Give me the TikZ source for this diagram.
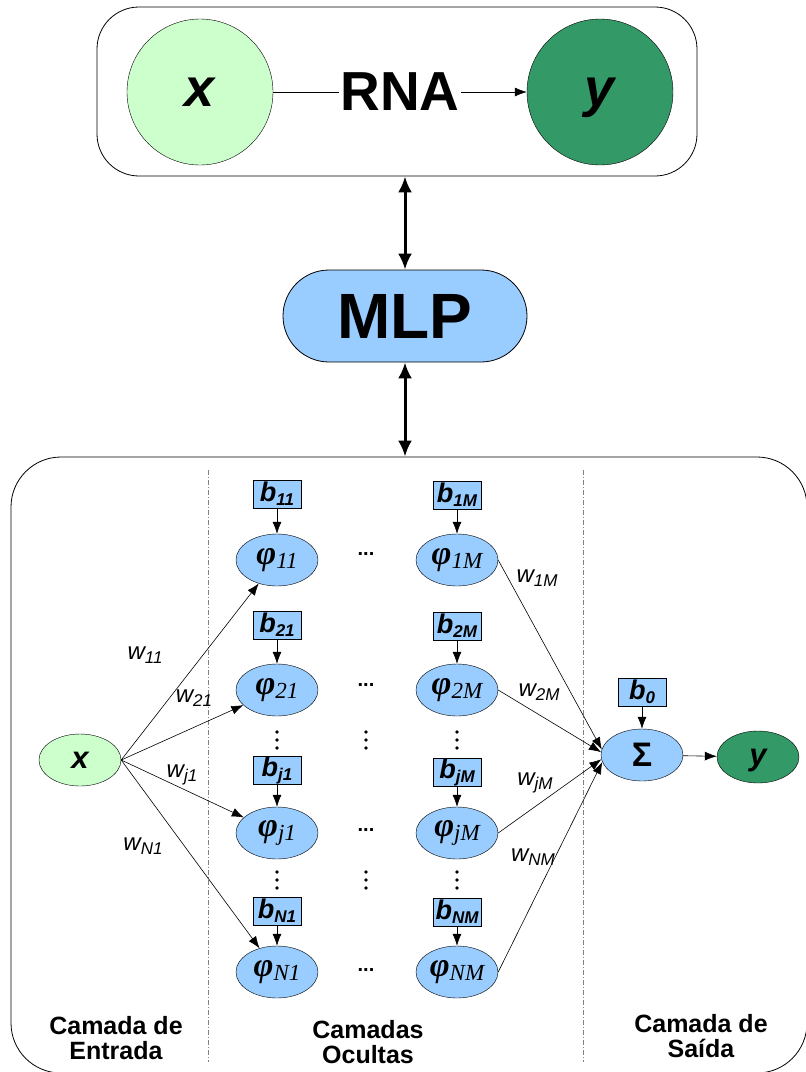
\documentclass[tikz,border=0pt]{standalone}
\usepackage{fontspec}
\setmainfont{Liberation Sans}
\newfontfamily\seriffont{Liberation Serif}
\usetikzlibrary{arrows.meta,shapes.geometric}
\definecolor{lblue}{HTML}{99CCFF}
\definecolor{lgreen}{HTML}{CCFFCC}
\definecolor{dgreen}{HTML}{339966}
\newcommand{\fs}[1]{\fontsize{#1}{#1}\selectfont}
\newcommand{\bsym}[1]{{\fs{27}\bfseries\itshape b}\raisebox{-4pt}{\fs{17}\bfseries\itshape #1}}
\newcommand{\phisym}[1]{{\seriffont\bfseries\itshape\fs{34}φ}\raisebox{-4pt}{\seriffont\itshape\fs{23}#1}}
\newcommand{\wsym}[1]{{\itshape\fs{24}w}\raisebox{-4pt}{\itshape\fs{17}#1}}
\tikzset{
  bigc/.style={circle, draw, minimum size=146pt, inner sep=0pt, font=\fs{54}\bfseries\itshape, text height=28pt, text depth=0pt},
  neu/.style={ellipse, draw, fill=lblue, minimum width=82pt, minimum height=52pt, inner sep=0pt},
  smallv/.style={text height=16pt, text depth=0pt},
  biasbox/.style={rectangle, draw, fill=lblue, minimum width=48pt, minimum height=28pt, inner sep=0pt},
  thin arr/.style={-{Latex[length=12pt,width=9pt]}, line width=0.6pt},
  dbl/.style={{Latex[length=16pt,width=14pt]}-{Latex[length=16pt,width=14pt]}, line width=3pt},
  wlab/.style={inner sep=0pt},
  hdots/.style={font=\fs{20}\bfseries, inner sep=0pt},
  caption/.style={font=\fs{25}\bfseries, align=center, inner sep=0pt},
  sep/.style={gray, line width=0.8pt, dash pattern=on 5pt off 2pt on 1pt off 2pt}
}
\begin{document}
\begin{tikzpicture}[x=1pt, y=-1pt]
\useasboundingbox (0,0) rectangle (806,1072);
% top block
\node[draw, rounded corners=42pt, minimum width=600pt, minimum height=169pt, line width=0.8pt] (topbox) at (397,91.5) {};
\node[bigc, fill=lgreen] (tx) at (200,92) {x};
\node[bigc, fill=dgreen] (ty) at (600,92) {y};
\draw[thin arr] (tx) -- (ty) node[midway, fill=white, inner sep=1pt, font=\fs{55}\bfseries] (rna) {RNA};
% MLP
\node[draw, fill=lblue, rounded corners=46pt, minimum width=244pt, minimum height=92pt, font=\fs{64}\bfseries, line width=0.8pt] (mlp) at (405,316) {MLP};
% bottom block
\node[draw, rounded corners=50pt, minimum width=796pt, minimum height=616pt, line width=0.8pt] (botbox) at (409,765) {};
\draw[dbl] (mlp.north |- topbox.south) -- (mlp.north);
\draw[dbl] (mlp.south) -- (botbox.north -| mlp.south);
% separators
\coordinate (s1a) at (208,470); \coordinate (s1b) at (208,1062);
\coordinate (s2a) at (583,470); \coordinate (s2b) at (583,1062);
\draw[sep] (s1a) -- (s1b);
\draw[sep] (s2a) -- (s2b);
% input
\node[neu, fill=lgreen, font=\fs{31}\bfseries\itshape, smallv] (x) at (80,760) {x};
% hidden column 1
\node[neu] (p11) at (277,560) {\phisym{11}};
\node[neu] (p21) at (277,690) {\phisym{21}};
\node[neu] (pj1) at (277,833) {\phisym{j1}};
\node[neu] (pN1) at (277,972) {\phisym{N1}};
\node[biasbox] (b11) at (277,494) {\bsym{11}};
\node[biasbox] (b21) at (277,625) {\bsym{21}};
\node[biasbox] (bj1) at (277,770) {\bsym{j1}};
\node[biasbox] (bN1) at (277,911) {\bsym{N1}};
% hidden column M
\node[neu] (p1M) at (457,560) {\phisym{1M}};
\node[neu] (p2M) at (457,690) {\phisym{2M}};
\node[neu] (pjM) at (457,833) {\phisym{jM}};
\node[neu] (pNM) at (457,972) {\phisym{NM}};
\node[biasbox] (b1M) at (457,495) {\bsym{1M}};
\node[biasbox] (b2M) at (457,626) {\bsym{2M}};
\node[biasbox] (bjM) at (457,772) {\bsym{jM}};
\node[biasbox] (bNM) at (457,912) {\bsym{NM}};
\foreach \r in {11,21,j1,N1,1M,2M,jM,NM}{\draw[thin arr] (b\r) -- (p\r);}
% dots
\node[hdots] (h1) at (366,554) {...};
\node[hdots] (h2) at (366,685) {...};
\node[hdots] (h3) at (366,830) {...};
\node[hdots] (h4) at (366,970) {...};
\foreach \cx in {277,366,457}{
  \foreach \cy in {740,880}{
    \foreach \d in {-8,0,8}{\fill (\cx,\cy+\d) circle (1.8pt);}
  }
}
% output
\node[neu, font=\fs{34}\bfseries] (sig) at (642,755) {Σ};
\node[biasbox] (b0) at (642,692) {\bsym{0}};
\node[neu, fill=dgreen, font=\fs{31}\bfseries\itshape, smallv] (y) at (758,757) {y};
\draw[thin arr] (b0) -- (sig);
\draw[thin arr] (sig) -- (y);
% edges
\foreach \r in {11,21,j1,N1}{\draw[thin arr] (x.east) -- (p\r);}
\draw[thin arr] (p1M.east) -- (sig.172);
\draw[thin arr] (p2M.east) -- (sig.176);
\draw[thin arr] (pjM.east) -- (sig.186);
\draw[thin arr] (pNM.east) -- (sig.190);
% weight labels
\node[wlab] (w11) at (145,655) {\wsym{11}};
\node[wlab] (w21) at (194,698) {\wsym{21}};
\node[wlab] (wj1) at (182,775) {\wsym{j1}};
\node[wlab] (wN1) at (143,846) {\wsym{N1}};
\node[wlab] (w1M) at (537,578) {\wsym{1M}};
\node[wlab] (w2M) at (539,692) {\wsym{2M}};
\node[wlab] (wjM) at (535,783) {\wsym{jM}};
\node[wlab] (wNM) at (533,857) {\wsym{NM}};
% captions
\node[caption] (c1) at (116,1038) {Camada de\\Entrada};
\node[caption] (c2) at (368,1042) {Camadas\\Ocultas};
\node[caption] (c3) at (701,1036) {Camada de\\Saída};
\end{tikzpicture}
\end{document}
